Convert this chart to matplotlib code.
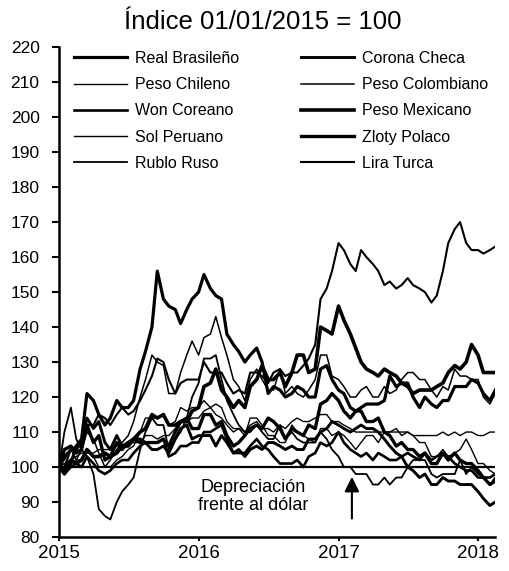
import numpy as np
import pandas as pd
import matplotlib
matplotlib.use("Agg")
import matplotlib.pyplot as plt

plt.rcParams['font.family'] = ['Liberation Sans', 'DejaVu Sans']

# fechas quincenales (1 y 15 de cada mes)
dates = pd.date_range("2015-01-01", "2018-02-15", freq="SMS")

real_brasileno = [100, 98, 101, 106, 108, 121, 119, 115, 112, 114, 119, 117, 117, 119, 128, 133, 140, 156, 148, 146, 145, 141, 145, 148,
                  150, 155, 151, 149, 148, 138, 135, 133, 130, 132, 134, 130, 121, 123, 122, 120, 121, 123, 122, 120, 120, 128, 129, 125,
                  122, 121, 117, 116, 117, 118, 118, 118, 119, 126, 123, 124, 124, 120, 117, 120, 118, 117, 119, 119, 123, 123, 123, 125,
                  124, 121, 119, 122]
peso_chileno = [100, 102, 105, 102, 102, 105, 103, 100, 100, 100, 102, 103, 105, 106, 110, 114, 114, 114, 115, 112, 113, 117, 116, 117,
                117, 119, 117, 115, 114, 112, 110, 111, 109, 114, 114, 112, 109, 109, 107, 107, 112, 110, 109, 108, 107, 111, 111, 109,
                110, 109, 107, 105, 107, 109, 109, 107, 110, 110, 111, 109, 110, 109, 107, 107, 103, 103, 105, 103, 104, 105, 108, 105,
                101, 101, 99, 98]
won_coreano = [100, 98, 100, 101, 100, 103, 101, 99, 98, 99, 101, 102, 102, 104, 106, 107, 107, 107, 108, 103, 104, 106, 106, 107,
               107, 110, 110, 111, 112, 108, 104, 104, 104, 106, 108, 106, 105, 103, 101, 101, 101, 102, 100, 103, 104, 107, 106, 107,
               110, 107, 105, 104, 103, 104, 102, 104, 103, 102, 102, 103, 104, 103, 102, 104, 102, 103, 104, 103, 101, 100, 99, 99,
               97, 97, 97, 98]
sol_peruano = [100, 101, 102, 103, 104, 104, 104, 105, 105, 105, 106, 106, 107, 107, 107, 109, 109, 108, 109, 109, 111, 113, 113, 114,
               114, 116, 117, 118, 117, 113, 111, 111, 110, 112, 113, 111, 111, 110, 112, 111, 113, 114, 113, 113, 114, 115, 115, 113,
               113, 112, 111, 110, 110, 110, 110, 110, 110, 110, 110, 110, 110, 109, 109, 109, 109, 109, 110, 109, 110, 109, 110, 110,
               109, 109, 110, 110]
rublo_ruso = [100, 110, 117, 108, 105, 103, 98, 88, 86, 85, 90, 93, 95, 97, 105, 110, 114, 112, 112, 105, 108, 110, 114, 120,
              124, 131, 131, 132, 125, 119, 115, 112, 110, 110, 112, 110, 108, 108, 112, 108, 110, 108, 107, 107, 107, 110, 108, 105,
              103, 100, 100, 98, 98, 98, 95, 95, 97, 95, 97, 97, 100, 102, 102, 102, 98, 97, 98, 98, 98, 102, 98, 100,
              98, 97, 95, 97]
corona_checa = [100, 103, 105, 105, 107, 114, 111, 113, 107, 105, 109, 106, 107, 108, 108, 107, 105, 105, 106, 104, 108, 111, 112, 108,
                109, 109, 109, 106, 109, 107, 104, 105, 103, 105, 106, 105, 107, 107, 106, 105, 106, 105, 105, 108, 108, 110, 111, 113,
                112, 111, 110, 111, 112, 111, 111, 110, 108, 106, 104, 103, 100, 99, 97, 98, 95, 95, 97, 96, 96, 95, 95, 95,
                93, 91, 89, 90]
peso_colombiano = [100, 101, 101, 102, 105, 110, 108, 104, 100, 102, 105, 107, 109, 113, 120, 125, 132, 130, 129, 121, 121, 127, 132, 136,
                   132, 137, 138, 143, 137, 132, 125, 123, 119, 125, 128, 125, 122, 122, 128, 121, 123, 121, 120, 122, 125, 132, 132, 126,
                   125, 123, 120, 120, 122, 123, 120, 120, 123, 121, 122, 125, 127, 127, 125, 125, 122, 120, 123, 122, 128, 126, 126, 125,
                   125, 120, 118, 121]
peso_mexicano = [100, 99, 102, 101, 102, 105, 103, 103, 104, 103, 104, 106, 106, 108, 110, 111, 115, 114, 115, 112, 112, 113, 113, 116,
                 117, 123, 124, 128, 122, 120, 117, 119, 117, 123, 125, 129, 125, 125, 127, 123, 127, 132, 132, 127, 128, 140, 139, 138,
                 146, 142, 138, 134, 130, 128, 127, 126, 128, 127, 126, 124, 123, 121, 122, 122, 122, 123, 124, 127, 129, 128, 130, 135,
                 132, 127, 127, 127]
zloty_polaco = [100, 105, 106, 104, 105, 112, 107, 109, 102, 103, 107, 105, 107, 108, 107, 107, 107, 107, 108, 106, 110, 113, 114, 111,
                111, 115, 115, 112, 113, 109, 106, 107, 109, 111, 112, 111, 114, 113, 111, 108, 111, 110, 109, 112, 111, 118, 119, 121,
                119, 116, 114, 116, 116, 113, 113, 114, 110, 109, 106, 107, 105, 105, 103, 104, 101, 101, 104, 102, 104, 102, 101, 101,
                99, 97, 95, 96]
lira_turca = [100, 100, 105, 106, 107, 112, 112, 115, 114, 112, 115, 117, 115, 116, 119, 122, 126, 131, 130, 125, 121, 124, 125, 125,
              125, 130, 127, 127, 127, 124, 121, 122, 121, 127, 127, 126, 124, 127, 128, 126, 127, 127, 129, 131, 135, 148, 151, 156,
              164, 162, 158, 156, 162, 160, 158, 156, 152, 153, 151, 152, 154, 152, 151, 150, 147, 149, 156, 164, 168, 170, 164, 162,
              162, 161, 162, 163]

names = ["Real Brasileño", "Peso Chileno", "Won Coreano", "Sol Peruano", "Rublo Ruso",
         "Corona Checa", "Peso Colombiano", "Peso Mexicano", "Zloty Polaco", "Lira Turca"]
series = [real_brasileno, peso_chileno, won_coreano, sol_peruano, rublo_ruso,
          corona_checa, peso_colombiano, peso_mexicano, zloty_polaco, lira_turca]
widths = [2.3, 1.0, 1.9, 1.0, 1.3, 2.1, 1.1, 2.6, 2.4, 1.5]

fig = plt.figure(figsize=(5.09, 5.71), dpi=100)
ax = fig.add_axes([0.116, 0.0595, 0.857, 0.858])

for name, vals, lw in zip(names, series, widths):
    ax.plot(dates, vals, color="black", lw=lw, label=name)

ax.axhline(100, color="black", lw=1.6)

ax.set_ylim(80, 220)
ax.set_yticks(np.arange(80, 221, 10))
ax.set_xlim(pd.Timestamp("2015-01-01"), pd.Timestamp("2018-02-15"))
ax.set_xticks([pd.Timestamp(f"{y}-01-01") for y in [2015, 2016, 2017, 2018]])
ax.set_xticklabels(["2015", "2016", "2017", "2018"])
ax.tick_params(axis="y", labelsize=12.5, direction="out", width=1.5, length=5, pad=9)
ax.tick_params(axis="x", labelsize=13.5, direction="out", width=1.5, length=3, pad=3)
for s in ["top", "right"]:
    ax.spines[s].set_visible(False)
for s in ["left", "bottom"]:
    ax.spines[s].set_linewidth(1.8)

ax.legend(ncol=2, loc="upper left", bbox_to_anchor=(0.02, 1.005), frameon=False,
          fontsize=11.5, handlelength=3.3, handletextpad=0.5, labelspacing=0.7,
          columnspacing=3.9, borderaxespad=0)

ax.text(pd.Timestamp("2016-05-22"), 91.5, "Depreciación\nfrente al dólar",
        ha="center", va="center", fontsize=13, linespacing=1.05)
ax.annotate("", xy=(pd.Timestamp("2017-02-05"), 98), xytext=(pd.Timestamp("2017-02-05"), 84.5),
            arrowprops=dict(arrowstyle="-|>", color="black", lw=1.5, mutation_scale=22))

fig.text(0.517, 0.962, "Índice 01/01/2015 = 100", ha="center", va="center", fontsize=18.5)

fig.savefig("out.png", dpi=100)
